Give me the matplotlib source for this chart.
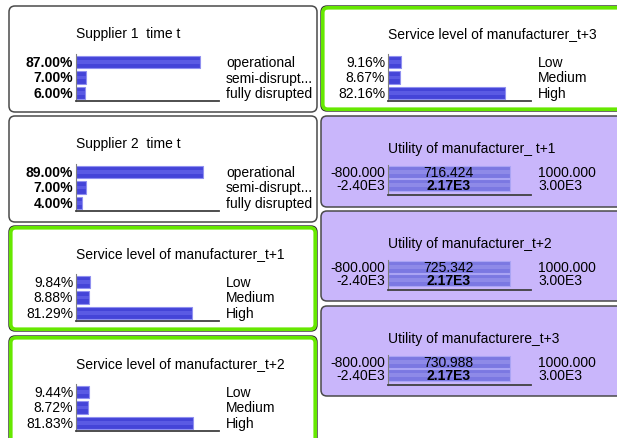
import matplotlib
matplotlib.use('Agg')
import matplotlib.pyplot as plt
from matplotlib.patches import FancyBboxPatch

plt.rcParams['font.family'] = ['Liberation Sans', 'DejaVu Sans']

W, H = 617, 439

# node data
supplier_states = ['operational', 'semi-disrupt...', 'fully disrupted']
supplier1_pct = [87.00, 7.00, 6.00]
supplier2_pct = [89.00, 7.00, 4.00]

service_states = ['Low', 'Medium', 'High']
service_t1_pct = [9.84, 8.88, 81.29]
service_t2_pct = [9.44, 8.72, 81.83]
service_t3_pct = [9.16, 8.67, 82.16]

utility_titles = ['Utility of manufacturer_ t+1', 'Utility of manufacturer_t+2',
                  'Utility of manufacturere_t+3']
utility_mean = ['716.424', '725.342', '730.988']
utility_std = ['2.17E3', '2.17E3', '2.17E3']
utility_low = ['-800.000', '-2.40E3']
utility_high = ['1000.000', '3.00E3']
utility_bar = [85, 85]

fig = plt.figure(figsize=(W / 100, H / 100), dpi=100)
bg = fig.add_axes([0, 0, 1, 1])
bg.set_xlim(0, W)
bg.set_ylim(H, 0)
bg.axis('off')

BLUE = '#4444d8'
BLUE_EDGE = '#9090f0'
UTIL = '#7b78e2'
UTIL_EDGE = '#aaa4f4'
LAVENDER = '#c9b6fb'
GREEN = '#66e800'
FS = 10


def draw_box(x0, y0, x1, y1, face, green=False):
    if green:
        bg.add_patch(FancyBboxPatch((x0, y0), x1 - x0, y1 - y0,
                                    boxstyle='round,pad=0,rounding_size=6',
                                    fc=face, ec='#303030', lw=1.0, zorder=1))
        bg.add_patch(FancyBboxPatch((x0 + 1.8, y0 + 1.8), x1 - x0 - 3.6, y1 - y0 - 3.6,
                                    boxstyle='round,pad=0,rounding_size=5',
                                    fc='none', ec=GREEN, lw=2.6, zorder=2))
    else:
        bg.add_patch(FancyBboxPatch((x0, y0), x1 - x0, y1 - y0,
                                    boxstyle='round,pad=0,rounding_size=6',
                                    fc=face, ec='#4a4a4a', lw=1.1, zorder=1))


def bar_axes(x, y_top, w, h):
    ax = fig.add_axes([x / W, 1 - (y_top + h) / H, w / W, h / H])
    ax.set_facecolor('none')
    ax.set_xlim(0, 100)
    ax.set_xticks([])
    ax.set_yticks([])
    for s in ['top', 'right']:
        ax.spines[s].set_visible(False)
    ax.spines['bottom'].set_color('#404040')
    ax.spines['bottom'].set_linewidth(1.3)
    ax.spines['left'].set_color('#808080')
    ax.spines['left'].set_linewidth(0.8)
    return ax


def prob_node(x0, y0, x1, y1, title, states, pct, bold, green):
    draw_box(x0, y0, x1, y1, 'white', green)
    bx = x0 + 67
    bg.text(bx, y0 + 27, title, fontsize=FS, ha='left', va='center', zorder=3)
    ax = bar_axes(bx, y0 + 48, 143, 47)
    rows = list(range(len(states)))
    ax.set_ylim(len(states) - 0.5, -0.5)
    ax.barh(rows, pct, height=0.8, color=BLUE, edgecolor=BLUE_EDGE, lw=0.8)
    ax.barh(rows, pct, height=0.22, color='#5a5ae4', lw=0)
    for r, p, s in zip(rows, pct, states):
        ax.text(-0.02, r, f'{p:.2f}%', transform=ax.get_yaxis_transform(),
                ha='right', va='center', fontsize=FS,
                fontweight='bold' if bold else 'normal')
        ax.text(1.05, r, s, transform=ax.get_yaxis_transform(),
                ha='left', va='center', fontsize=FS)


def util_node(x0, y0, x1, y1, title, mean, std):
    draw_box(x0, y0, x1, y1, LAVENDER)
    bx = x0 + 67
    bg.text(bx, y0 + 32, title, fontsize=FS, ha='left', va='center', zorder=3)
    ax = bar_axes(bx, y0 + 49, 143, 30)
    ax.set_ylim(1.77, -0.54)
    ax.barh([0, 1], utility_bar, height=0.92, color=UTIL, edgecolor=UTIL_EDGE, lw=0.8)
    ax.barh([0, 1], utility_bar, height=0.3, color='#8e8ae8', lw=0)
    ax.text(utility_bar[0] / 2, 0, mean, ha='center', va='center', fontsize=FS)
    ax.text(utility_bar[1] / 2, 1, std, ha='center', va='center', fontsize=FS,
            fontweight='bold')
    for r in [0, 1]:
        ax.text(-0.02, r, utility_low[r], transform=ax.get_yaxis_transform(),
                ha='right', va='center', fontsize=FS)
        ax.text(1.05, r, utility_high[r], transform=ax.get_yaxis_transform(),
                ha='left', va='center', fontsize=FS)


prob_node(9, 7, 317, 113, 'Supplier 1  time t', supplier_states, supplier1_pct, True, False)
prob_node(9, 117, 317, 223, 'Supplier 2  time t', supplier_states, supplier2_pct, True, False)
prob_node(9, 227, 317, 332, 'Service level of manufacturer_t+1', service_states,
          service_t1_pct, False, True)
prob_node(9, 337, 317, 450, 'Service level of manufacturer_t+2', service_states,
          service_t2_pct, False, True)
prob_node(321, 7, 640, 112, 'Service level of manufacturer_t+3', service_states,
          service_t3_pct, False, True)

util_node(321, 117, 640, 208, utility_titles[0], utility_mean[0], utility_std[0])
util_node(321, 212, 640, 302, utility_titles[1], utility_mean[1], utility_std[1])
util_node(321, 307, 640, 397, utility_titles[2], utility_mean[2], utility_std[2])

fig.savefig('out.png', dpi=100)
